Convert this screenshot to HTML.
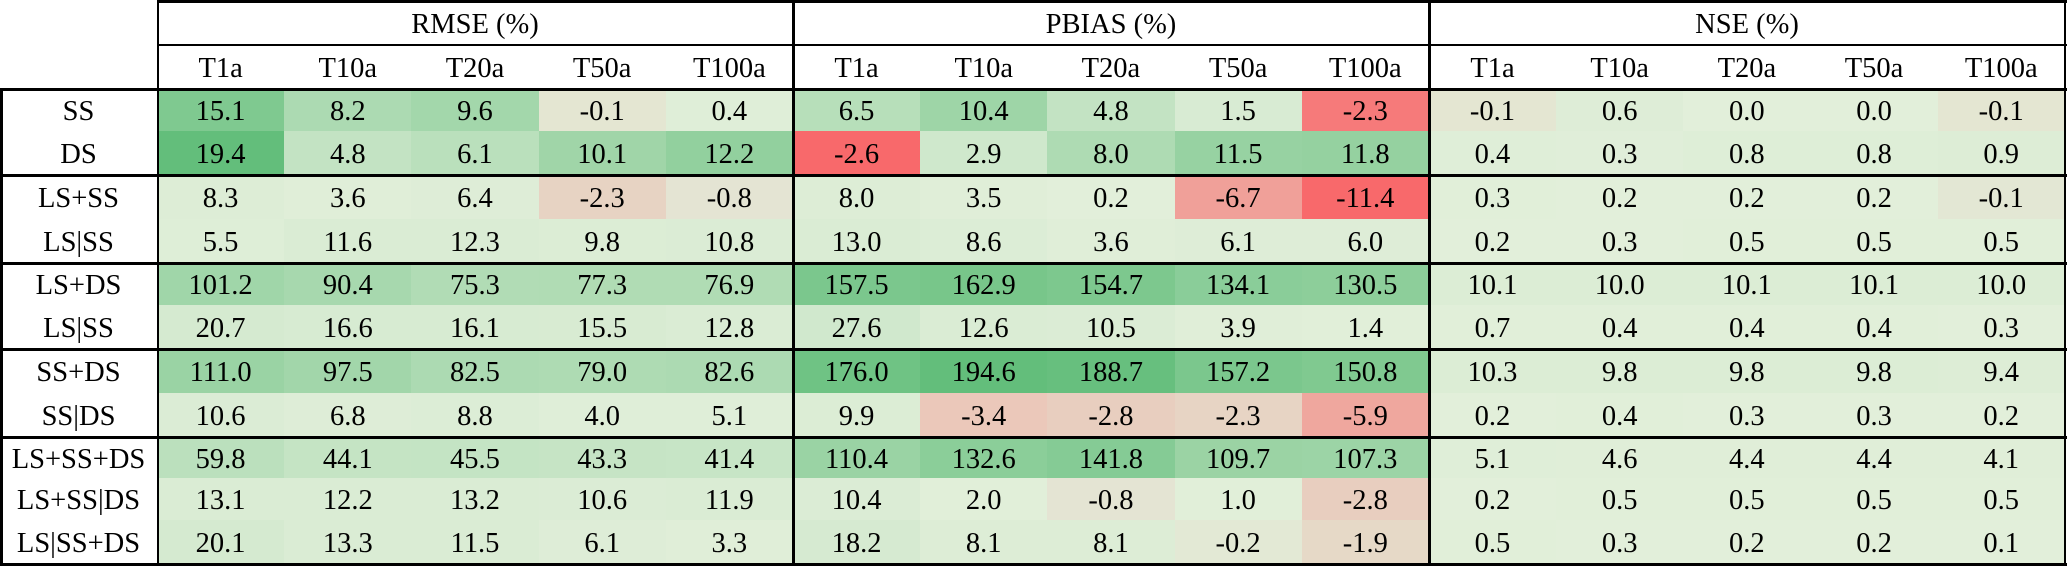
<!DOCTYPE html>
<html>
<head>
<meta charset="utf-8">
<style>
*{margin:0;padding:0;box-sizing:border-box}
html,body{width:2067px;height:566px;background:#fff;overflow:hidden}
body{position:relative;font-family:"Liberation Serif","Times New Roman",serif;font-size:28.5px;color:#000}
.r{position:absolute;left:0;width:2067px;display:flex;overflow:hidden}
.r span{display:block;height:100%;text-align:center;white-space:nowrap;overflow:hidden}
.l{width:157px;background:#fff}
.c{width:127.2px}
.h1{position:absolute;top:0;height:45px;width:636px;text-align:center;line-height:49px}
.b{position:absolute;background:#000}
</style>
</head>
<body>
<!-- header row 1 -->
<div class="h1" style="left:157px">RMSE (%)</div>
<div class="h1" style="left:793px">PBIAS (%)</div>
<div class="h1" style="left:1429px">NSE (%)</div>
<!-- header row 2 -->
<div class="r" style="top:45px;height:44px;line-height:48px">
<span class="l"></span>
<span class="c">T1a</span><span class="c">T10a</span><span class="c">T20a</span><span class="c">T50a</span><span class="c">T100a</span>
<span class="c">T1a</span><span class="c">T10a</span><span class="c">T20a</span><span class="c">T50a</span><span class="c">T100a</span>
<span class="c">T1a</span><span class="c">T10a</span><span class="c">T20a</span><span class="c">T50a</span><span class="c">T100a</span>
</div>

<div class="r" style="top:89px;height:42px;line-height:46px">
<span class="l">SS</span>
<span class="c" style="background:#7FC990">15.1</span><span class="c" style="background:#ACDAB2">8.2</span><span class="c" style="background:#A3D7AB">9.6</span><span class="c" style="background:#E4E6D2">-0.1</span><span class="c" style="background:#DFEED8">0.4</span>
<span class="c" style="background:#B7DFBA">6.5</span><span class="c" style="background:#9ED5A7">10.4</span><span class="c" style="background:#C3E3C3">4.8</span><span class="c" style="background:#D8EBD3">1.5</span><span class="c" style="background:#F67A7A">-2.3</span>
<span class="c" style="background:#E4E6D2">-0.1</span><span class="c" style="background:#DEEDD7">0.6</span><span class="c" style="background:#E2EFDA">0.0</span><span class="c" style="background:#E2EFDA">0.0</span><span class="c" style="background:#E4E6D2">-0.1</span>
</div>

<div class="r" style="top:131px;height:44px;line-height:48px">
<span class="l">DS</span>
<span class="c" style="background:#63BE7B">19.4</span><span class="c" style="background:#C3E3C3">4.8</span><span class="c" style="background:#BAE0BC">6.1</span><span class="c" style="background:#A0D5A8">10.1</span><span class="c" style="background:#92D09E">12.2</span>
<span class="c" style="background:#F8696B">-2.6</span><span class="c" style="background:#CFE8CC">2.9</span><span class="c" style="background:#AEDBB3">8.0</span><span class="c" style="background:#97D2A2">11.5</span><span class="c" style="background:#95D1A0">11.8</span>
<span class="c" style="background:#DFEED8">0.4</span><span class="c" style="background:#E0EED9">0.3</span><span class="c" style="background:#DEEED7">0.8</span><span class="c" style="background:#DEEED7">0.8</span><span class="c" style="background:#DDEDD6">0.9</span>
</div>

<div class="r" style="top:175px;height:44px;line-height:48px">
<span class="l">LS+SS</span>
<span class="c" style="background:#DDEDD6">8.3</span><span class="c" style="background:#E0EED8">3.6</span><span class="c" style="background:#DEEDD7">6.4</span><span class="c" style="background:#E7D3C3">-2.3</span><span class="c" style="background:#E4E4D3">-0.8</span>
<span class="c" style="background:#DDEDD6">8.0</span><span class="c" style="background:#E0EED8">3.5</span><span class="c" style="background:#E2EFDA">0.2</span><span class="c" style="background:#F0A099">-6.7</span><span class="c" style="background:#F8696B">-11.4</span>
<span class="c" style="background:#E1EFD9">0.3</span><span class="c" style="background:#E2EFDA">0.2</span><span class="c" style="background:#E2EFDA">0.2</span><span class="c" style="background:#E2EFDA">0.2</span><span class="c" style="background:#E3E7D4">-0.1</span>
</div>

<div class="r" style="top:219px;height:44px;line-height:48px">
<span class="l">LS|SS</span>
<span class="c" style="background:#DEEED7">5.5</span><span class="c" style="background:#DAECD4">11.6</span><span class="c" style="background:#DAECD4">12.3</span><span class="c" style="background:#DCEDD5">9.8</span><span class="c" style="background:#DBECD5">10.8</span>
<span class="c" style="background:#DAECD4">13.0</span><span class="c" style="background:#DCEDD6">8.6</span><span class="c" style="background:#E0EED8">3.6</span><span class="c" style="background:#DEEDD7">6.1</span><span class="c" style="background:#DEEDD7">6.0</span>
<span class="c" style="background:#E2EFDA">0.2</span><span class="c" style="background:#E2EFDA">0.3</span><span class="c" style="background:#E1EFD9">0.5</span><span class="c" style="background:#E1EFD9">0.5</span><span class="c" style="background:#E1EFD9">0.5</span>
</div>

<div class="r" style="top:263px;height:42px;line-height:46px">
<span class="l">LS+DS</span>
<span class="c" style="background:#A0D6A9">101.2</span><span class="c" style="background:#A7D8AE">90.4</span><span class="c" style="background:#B1DCB5">75.3</span><span class="c" style="background:#B0DCB4">77.3</span><span class="c" style="background:#B0DCB4">76.9</span>
<span class="c" style="background:#7BC78D">157.5</span><span class="c" style="background:#78C68A">162.9</span><span class="c" style="background:#7DC88E">154.7</span><span class="c" style="background:#8ACD99">134.1</span><span class="c" style="background:#8DCE9A">130.5</span>
<span class="c" style="background:#DCEDD5">10.1</span><span class="c" style="background:#DCEDD5">10.0</span><span class="c" style="background:#DCEDD5">10.1</span><span class="c" style="background:#DCEDD5">10.1</span><span class="c" style="background:#DCEDD5">10.0</span>
</div>

<div class="r" style="top:305px;height:44px;line-height:48px">
<span class="l">LS|SS</span>
<span class="c" style="background:#D5EAD0">20.7</span><span class="c" style="background:#D7EBD2">16.6</span><span class="c" style="background:#D7EBD2">16.1</span><span class="c" style="background:#D8EBD2">15.5</span><span class="c" style="background:#DAECD4">12.8</span>
<span class="c" style="background:#D0E8CD">27.6</span><span class="c" style="background:#DAECD4">12.6</span><span class="c" style="background:#DBECD5">10.5</span><span class="c" style="background:#E0EED8">3.9</span><span class="c" style="background:#E1EFD9">1.4</span>
<span class="c" style="background:#E1EFD9">0.7</span><span class="c" style="background:#E1EFD9">0.4</span><span class="c" style="background:#E1EFD9">0.4</span><span class="c" style="background:#E1EFD9">0.4</span><span class="c" style="background:#E2EFDA">0.3</span>
</div>

<div class="r" style="top:349px;height:44px;line-height:48px">
<span class="l">SS+DS</span>
<span class="c" style="background:#9AD3A4">111.0</span><span class="c" style="background:#A2D6AA">97.5</span><span class="c" style="background:#ACDAB2">82.5</span><span class="c" style="background:#AEDBB3">79.0</span><span class="c" style="background:#ACDAB2">82.6</span>
<span class="c" style="background:#6FC384">176.0</span><span class="c" style="background:#63BE7B">194.6</span><span class="c" style="background:#67BF7E">188.7</span><span class="c" style="background:#7BC78D">157.2</span><span class="c" style="background:#80C990">150.8</span>
<span class="c" style="background:#DCEDD5">10.3</span><span class="c" style="background:#DCEDD5">9.8</span><span class="c" style="background:#DCEDD5">9.8</span><span class="c" style="background:#DCEDD5">9.8</span><span class="c" style="background:#DDEDD6">9.4</span>
</div>

<div class="r" style="top:393px;height:44px;line-height:48px">
<span class="l">SS|DS</span>
<span class="c" style="background:#DBECD5">10.6</span><span class="c" style="background:#DEEDD7">6.8</span><span class="c" style="background:#DCEDD6">8.8</span><span class="c" style="background:#DFEED8">4.0</span><span class="c" style="background:#DFEED8">5.1</span>
<span class="c" style="background:#DCEDD5">9.9</span><span class="c" style="background:#EBC8BA">-3.4</span><span class="c" style="background:#E8CEBF">-2.8</span><span class="c" style="background:#E7D4C4">-2.3</span><span class="c" style="background:#EFA79E">-5.9</span>
<span class="c" style="background:#E2EFDA">0.2</span><span class="c" style="background:#E1EFD9">0.4</span><span class="c" style="background:#E2EFDA">0.3</span><span class="c" style="background:#E2EFDA">0.3</span><span class="c" style="background:#E2EFDA">0.2</span>
</div>

<div class="r" style="top:437px;height:41px;line-height:45px">
<span class="l">LS+SS+DS</span>
<span class="c" style="background:#BBE0BD">59.8</span><span class="c" style="background:#C5E4C4">44.1</span><span class="c" style="background:#C4E4C4">45.5</span><span class="c" style="background:#C6E4C5">43.3</span><span class="c" style="background:#C7E5C6">41.4</span>
<span class="c" style="background:#9AD3A4">110.4</span><span class="c" style="background:#8BCE99">132.6</span><span class="c" style="background:#85CB95">141.8</span><span class="c" style="background:#9BD3A4">109.7</span><span class="c" style="background:#9CD4A6">107.3</span>
<span class="c" style="background:#DFEED8">5.1</span><span class="c" style="background:#E0EED8">4.6</span><span class="c" style="background:#E0EED8">4.4</span><span class="c" style="background:#E0EED8">4.4</span><span class="c" style="background:#E0EED8">4.1</span>
</div>

<div class="r" style="top:478px;height:42px;line-height:46px">
<span class="l">LS+SS|DS</span>
<span class="c" style="background:#DAECD4">13.1</span><span class="c" style="background:#DAECD4">12.2</span><span class="c" style="background:#DAECD4">13.2</span><span class="c" style="background:#DBECD5">10.6</span><span class="c" style="background:#DAECD4">11.9</span>
<span class="c" style="background:#DBECD5">10.4</span><span class="c" style="background:#E1EFD9">2.0</span><span class="c" style="background:#E4E4D3">-0.8</span><span class="c" style="background:#E1EFD9">1.0</span><span class="c" style="background:#E8CEBF">-2.8</span>
<span class="c" style="background:#E2EFDA">0.2</span><span class="c" style="background:#E1EFD9">0.5</span><span class="c" style="background:#E1EFD9">0.5</span><span class="c" style="background:#E1EFD9">0.5</span><span class="c" style="background:#E1EFD9">0.5</span>
</div>

<div class="r" style="top:520px;height:44px;line-height:48px">
<span class="l">LS|SS+DS</span>
<span class="c" style="background:#D5EAD0">20.1</span><span class="c" style="background:#DAECD4">13.3</span><span class="c" style="background:#DAECD4">11.5</span><span class="c" style="background:#DEEDD7">6.1</span><span class="c" style="background:#E0EED8">3.3</span>
<span class="c" style="background:#D6EAD1">18.2</span><span class="c" style="background:#DDEDD6">8.1</span><span class="c" style="background:#DDEDD6">8.1</span><span class="c" style="background:#E3E9D5">-0.2</span><span class="c" style="background:#E6D9C7">-1.9</span>
<span class="c" style="background:#E1EFD9">0.5</span><span class="c" style="background:#E2EFDA">0.3</span><span class="c" style="background:#E2EFDA">0.2</span><span class="c" style="background:#E2EFDA">0.2</span><span class="c" style="background:#E2EFDA">0.1</span>
</div>

<!-- borders -->
<div class="b" style="left:157px;top:0;width:1910px;height:2.5px"></div>
<div class="b" style="left:157px;top:44px;width:1910px;height:2px"></div>
<div class="b" style="left:0;top:88px;width:2067px;height:2.5px"></div>
<div class="b" style="left:0;top:174px;width:2067px;height:3px"></div>
<div class="b" style="left:0;top:262px;width:2067px;height:3px"></div>
<div class="b" style="left:0;top:348px;width:2067px;height:3px"></div>
<div class="b" style="left:0;top:436px;width:2067px;height:3px"></div>
<div class="b" style="left:0;top:563px;width:2067px;height:3px"></div>
<div class="b" style="left:0;top:88px;width:2.5px;height:478px"></div>
<div class="b" style="left:156.5px;top:0;width:2.5px;height:566px"></div>
<div class="b" style="left:792px;top:0;width:2.5px;height:566px"></div>
<div class="b" style="left:1428px;top:0;width:2.5px;height:566px"></div>
<div class="b" style="left:2063.5px;top:0;width:2.5px;height:566px"></div>
</body>
</html>
